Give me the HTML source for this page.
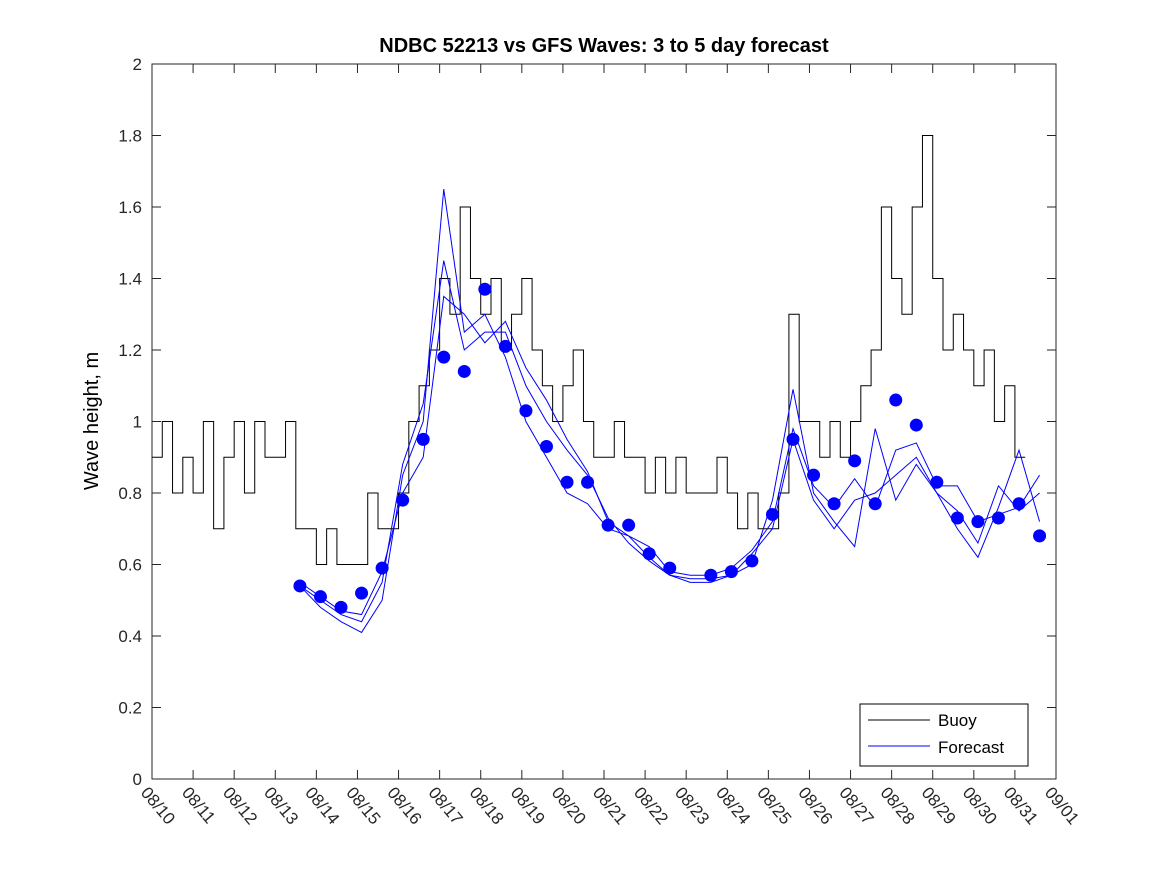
<!DOCTYPE html>
<html><head><meta charset="utf-8"><style>
body{margin:0;background:#fff;}
svg{font-family:"Liberation Sans",sans-serif;}
</style></head><body>
<svg id="chart" width="1167" height="875" xmlns="http://www.w3.org/2000/svg">
<rect width="1167" height="875" fill="#fff"/>
<text x="604" y="52" text-anchor="middle" font-size="20" font-weight="bold">NDBC 52213 vs GFS Waves: 3 to 5 day forecast</text>
<text transform="translate(98,421) rotate(-90)" text-anchor="middle" font-size="20">Wave height, m</text>
<g id="axes"></g><g id="series"></g>
<g>
<rect x="860" y="704" width="168" height="62" fill="#fff" stroke="#000"/>
<line x1="868" y1="720" x2="930" y2="720" stroke="#000"/>
<text x="938" y="726" font-size="17">Buoy</text>
<line x1="868" y1="746" x2="930" y2="746" stroke="#00f"/>
<text x="938" y="753" font-size="17">Forecast</text>
</g>
</svg>
<script>
const xLabels=["08/10","08/11","08/12","08/13","08/14","08/15","08/16","08/17","08/18","08/19","08/20","08/21","08/22","08/23","08/24","08/25","08/26","08/27","08/28","08/29","08/30","08/31","09/01"];
const yTicks=[0,0.2,0.4,0.6,0.8,1,1.2,1.4,1.6,1.8,2];
const buoy=[0.9,1.0,0.8,0.9,0.8,1.0,0.7,0.9,1.0,0.8,1.0,0.9,0.9,1.0,0.7,0.7,0.6,0.7,0.6,0.6,0.6,0.8,0.7,0.7,0.8,1.0,1.1,1.2,1.4,1.3,1.6,1.4,1.3,1.4,1.2,1.3,1.4,1.2,1.1,1.0,1.1,1.2,1.0,0.9,0.9,1.0,0.9,0.9,0.8,0.9,0.8,0.9,0.8,0.8,0.8,0.9,0.8,0.7,0.8,0.7,0.7,0.8,1.3,1.0,1.0,0.9,1.0,0.9,1.0,1.1,1.2,1.6,1.4,1.3,1.6,1.8,1.4,1.2,1.3,1.2,1.1,1.2,1.0,1.1,0.9];
const dots=[.54,.51,.48,.52,.59,.78,.95,1.18,1.14,1.37,1.21,1.03,.93,.83,.83,.71,.71,.63,.59,null,.57,.58,.61,.74,.95,.85,.77,.89,.77,1.06,.99,.83,.73,.72,.73,.77,.68];
const fc1=[.54,.48,.44,.41,.50,.85,1.00,1.65,1.25,1.30,1.18,1.00,.90,.80,.77,.70,.68,.62,.57,.55,.55,.57,.60,.78,1.09,.80,.72,.65,.98,.78,.88,.80,.70,.62,.76,.92,.72];
const fc2=[.54,.50,.46,.44,.55,.88,1.05,1.45,1.20,1.25,1.25,1.10,1.00,.92,.85,.73,.66,.61,.57,.56,.56,.57,.63,.70,.95,.78,.70,.78,.80,.85,.90,.80,.75,.66,.82,.75,.80];
const fc3=[.55,.51,.47,.46,.58,.80,.90,1.35,1.30,1.22,1.28,1.15,1.06,.95,.86,.72,.68,.65,.58,.57,.57,.59,.64,.72,.98,.82,.76,.84,.76,.92,.94,.82,.82,.72,.74,.76,.85];
const X0=152,X1=1056,Y0=779,Y1=64;
const xs=d=>X0+(X1-X0)*d/22, ys=v=>Y0-(Y0-Y1)*v/2;
const NS="http://www.w3.org/2000/svg";
function mk(t,a,p){const e=document.createElementNS(NS,t);for(const k in a)e.setAttribute(k,a[k]);p.appendChild(e);return e;}
const ax=document.getElementById('axes'),se=document.getElementById('series');
const box=mk('rect',{x:X0,y:Y1,width:X1-X0,height:Y0-Y1,fill:'none',stroke:'#262626'},ax);


xLabels.forEach((l,i)=>{const x=xs(i);
mk('line',{x1:x,y1:Y0,x2:x,y2:Y0-9,stroke:'#262626'},ax);mk('line',{x1:x,y1:Y1,x2:x,y2:Y1+9,stroke:'#262626'},ax);
const t=mk('text',{x:0,y:0,'font-size':17,fill:'#262626',transform:`translate(${x-12},${Y0+14}) rotate(50)`},ax);t.textContent=l;

});
yTicks.forEach(v=>{const y=ys(v);
mk('line',{x1:X0,y1:y,x2:X0+9,y2:y,stroke:'#262626'},ax);mk('line',{x1:X1,y1:y,x2:X1-9,y2:y,stroke:'#262626'},ax);
const t=mk('text',{x:X0-10,y:y+6,'font-size':17,'text-anchor':'end',fill:'#262626'},ax);t.textContent=String(v);

});
// buoy step line
let p='';buoy.forEach((v,i)=>{const x0=xs(i*0.25),x1=xs((i+1)*0.25),y=ys(v);p+=(i?'L':'M')+x0+','+y+'L'+x1+','+y;});
const bl=mk('path',{d:p,fill:'none',stroke:'#000','stroke-width':1},se);


[fc1,fc2,fc3].forEach((arr,k)=>{let d='';arr.forEach((v,i)=>{d+=(i?'L':'M')+xs(3.6+i*0.5)+','+ys(v);});
const l=mk('path',{d:d,fill:'none',stroke:'#00f','stroke-width':1},se);

});
dots.forEach((v,i)=>{if(v===null)return;
const c=mk('circle',{cx:xs(3.6+i*0.5),cy:ys(v),r:6.5,fill:'#00f'},se);

});
</script>
</body></html>
